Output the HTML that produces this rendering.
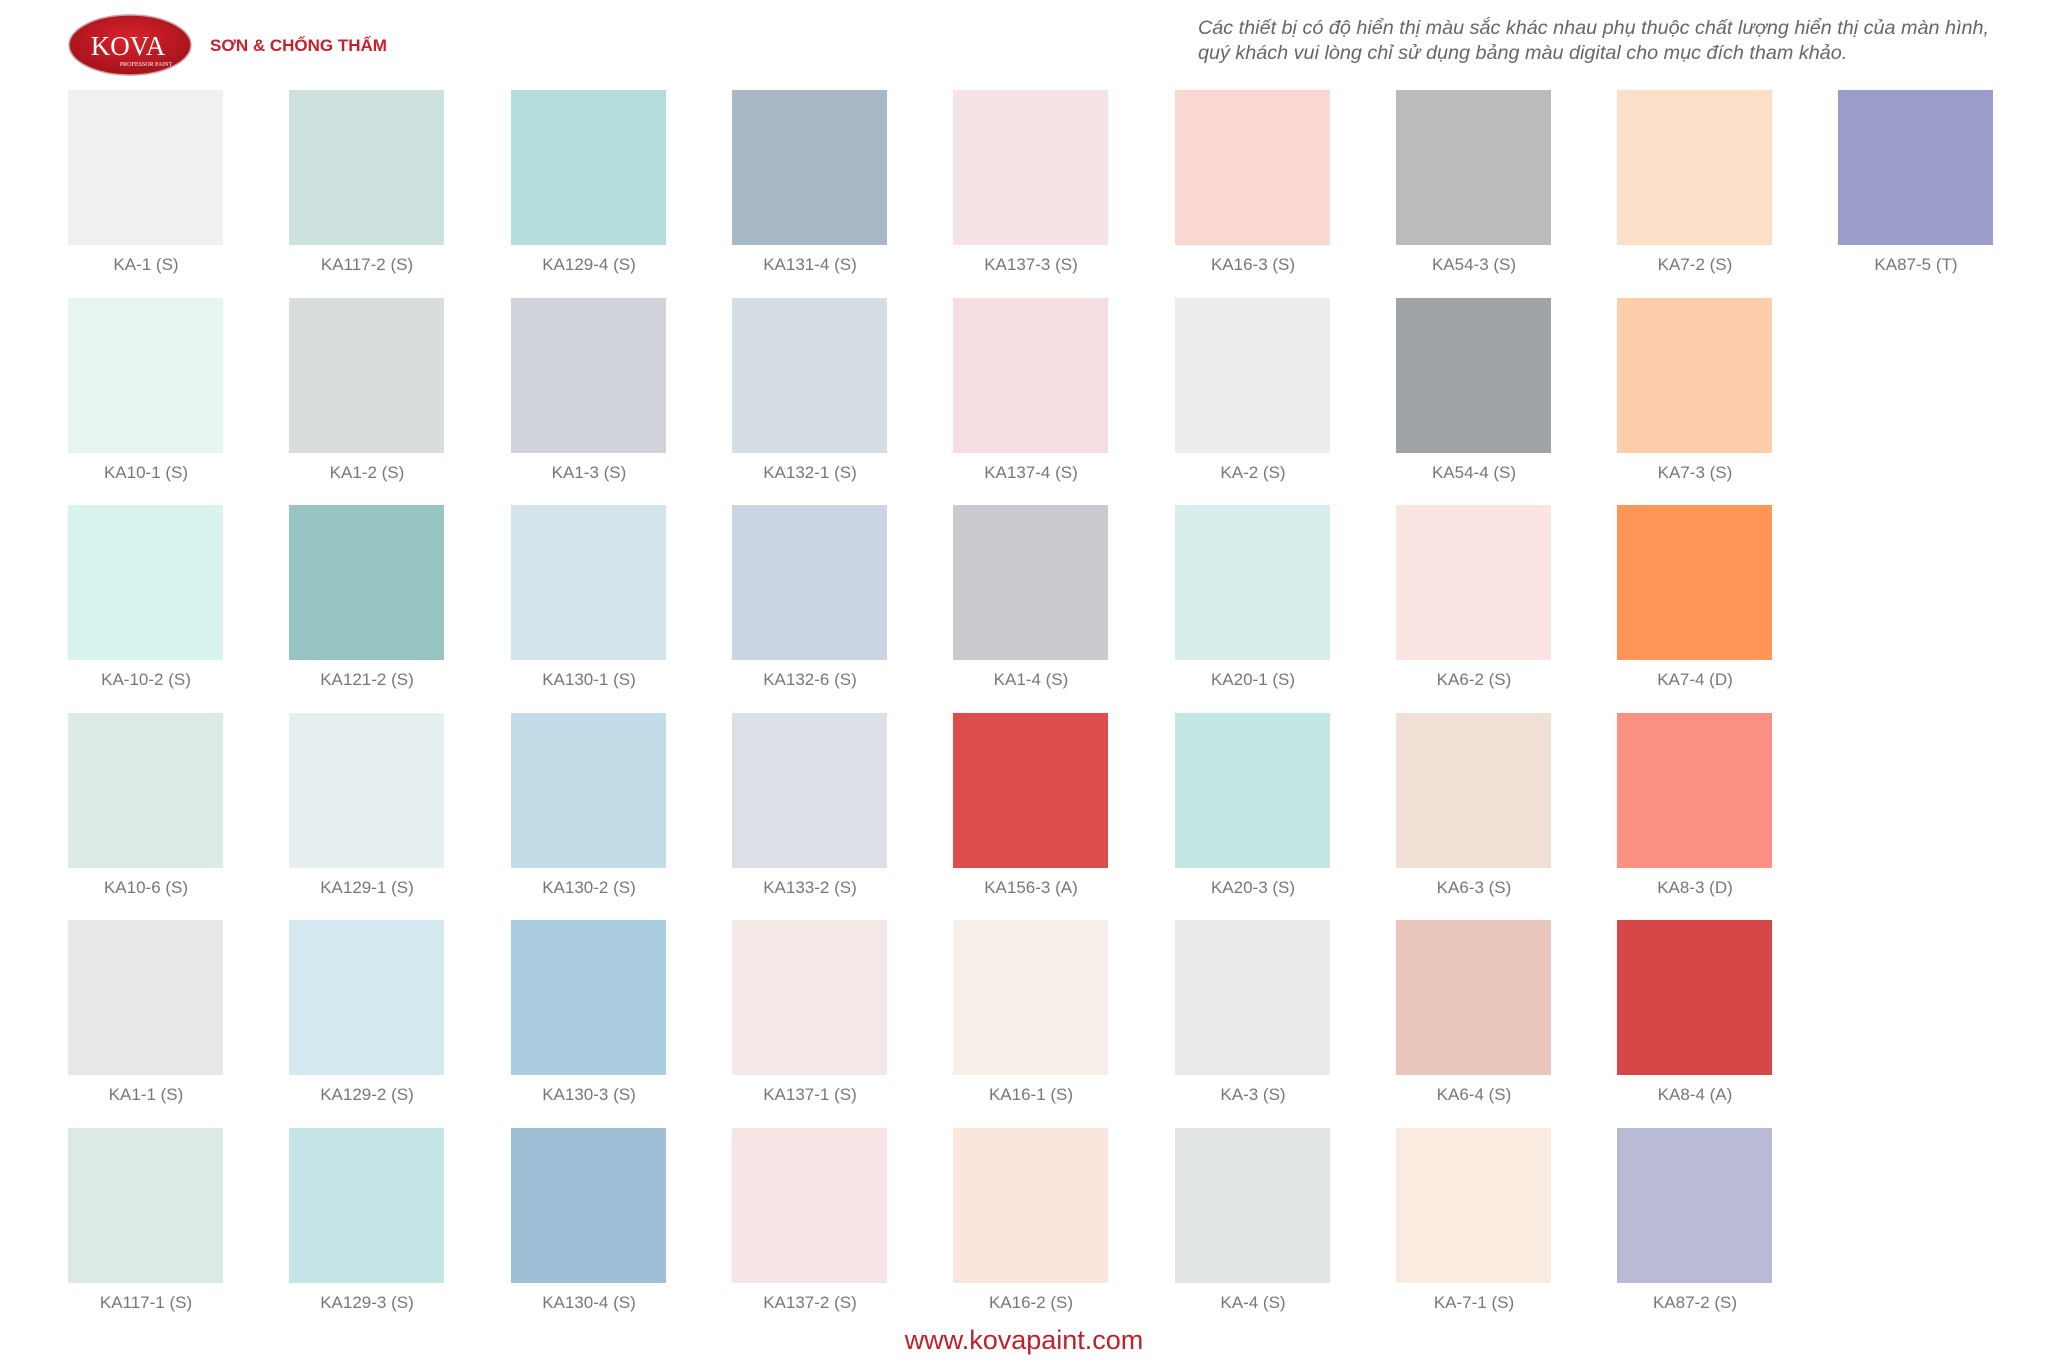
<!DOCTYPE html>
<html><head><meta charset="utf-8"><style>
html,body{margin:0;padding:0;background:#fff;}
body{width:2048px;height:1365px;position:relative;overflow:hidden;font-family:"Liberation Sans",sans-serif;}
.s{position:absolute;width:155px;height:155px;}
.l{position:absolute;width:220px;text-align:center;font-size:17px;color:#777;}
</style></head><body>
<svg style="position:absolute;left:66px;top:13px" width="128" height="64">
<defs><radialGradient id="g" cx="50%" cy="40%" r="60%"><stop offset="0" stop-color="#d8232c"/><stop offset="1" stop-color="#a5121b"/></radialGradient></defs>
<ellipse cx="64" cy="32" rx="61" ry="30" fill="url(#g)" stroke="#c9a0a0" stroke-width="1.5"/>
<text x="62" y="42" text-anchor="middle" font-family="Liberation Serif,serif" font-size="27" fill="#fff">KOVA</text>
<text x="80" y="53" text-anchor="middle" font-family="Liberation Serif,serif" font-size="6" fill="#fff">PROFESSOR PAINT</text>
</svg>
<div style="position:absolute;left:210px;top:36px;font-size:17px;font-weight:bold;color:#c8202a;">SƠN &amp; CHỐNG THẤM</div>
<div style="position:absolute;left:1198px;top:16px;width:840px;font-size:19.8px;font-style:italic;color:#666;line-height:25px;">Các thiết bị có độ hiển thị màu sắc khác nhau phụ thuộc chất lượng hiển thị của màn hình,<br>quý khách vui lòng chỉ sử dụng bảng màu digital cho mục đích tham khảo.</div>
<div style="position:absolute;left:0;width:2048px;top:1325px;text-align:center;font-size:27px;color:#c0202a;">www.kovapaint.com</div>
<div id="grid"></div>
<script>
var rows=[
[["KA-1 (S)","#f0f1ee"],["KA117-2 (S)","#cde1de"],["KA129-4 (S)","#b4dcdc"],["KA131-4 (S)","#a9b8c7"],["KA137-3 (S)","#f7e2e6"],["KA16-3 (S)","#fbd7d1"],["KA54-3 (S)","#bbbbba"],["KA7-2 (S)","#fbdfc9"],["KA87-5 (T)","#9b9ecb"]],
[["KA10-1 (S)","#e6f5ef"],["KA1-2 (S)","#d8dedd"],["KA1-3 (S)","#d0d4da"],["KA132-1 (S)","#d5dde5"],["KA137-4 (S)","#f5dee0"],["KA-2 (S)","#ededed"],["KA54-4 (S)","#a1a4a6"],["KA7-3 (S)","#fecdab"]],
[["KA-10-2 (S)","#d9f4ee"],["KA121-2 (S)","#98c5c1"],["KA130-1 (S)","#d3e5ea"],["KA132-6 (S)","#cbd4e3"],["KA1-4 (S)","#c8cacf"],["KA20-1 (S)","#d8eeed"],["KA6-2 (S)","#fbe5e3"],["KA7-4 (D)","#ff9658"]],
[["KA10-6 (S)","#dcebe7"],["KA129-1 (S)","#e6f0f1"],["KA130-2 (S)","#c2dde8"],["KA133-2 (S)","#dae0e6"],["KA156-3 (A)","#dd4d4b"],["KA20-3 (S)","#c1e8e3"],["KA6-3 (S)","#f1e0d5"],["KA8-3 (D)","#fb9182"]],
[["KA1-1 (S)","#e6e8ea"],["KA129-2 (S)","#d5e9f0"],["KA130-3 (S)","#abcde0"],["KA137-1 (S)","#f4e9e7"],["KA16-1 (S)","#f9efea"],["KA-3 (S)","#e9eaea"],["KA6-4 (S)","#e9c6bb"],["KA8-4 (A)","#d64848"]],
[["KA117-1 (S)","#dceae3"],["KA129-3 (S)","#c5e5e6"],["KA130-4 (S)","#9ebfd6"],["KA137-2 (S)","#f5e6e5"],["KA16-2 (S)","#fbe6de"],["KA-4 (S)","#e0e4e5"],["KA-7-1 (S)","#f9ebdf"],["KA87-2 (S)","#b9bad6"]]];
var h="";
rows.forEach(function(r,j){r.forEach(function(c,i){
var x=Math.round(68+i*221.3),y=Math.round(90+j*207.5);
h+='<div class="s" style="left:'+x+'px;top:'+y+'px;background:'+c[1]+'"></div>';
h+='<div class="l" style="left:'+(x-32)+'px;top:'+(y+165)+'px">'+c[0]+'</div>';});});
document.getElementById("grid").innerHTML=h;
</script>
</body></html>
